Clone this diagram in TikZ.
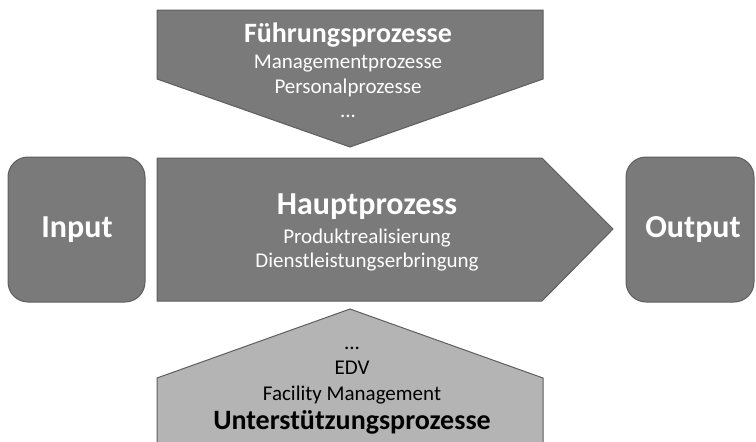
\documentclass[tikz,border=0pt]{standalone}
\usepackage{fontspec}
\setmainfont{Carlito}
\usetikzlibrary{positioning}
\definecolor{darkfill}{HTML}{7A7A7A}
\definecolor{lightfill}{HTML}{B4B4B4}
\definecolor{rim}{HTML}{5E5E5E}

\begin{document}
\begin{tikzpicture}[x=1pt,y=-1pt,node distance=25pt,on grid,
  dark/.style={fill=darkfill,draw=rim,line width=1pt},
  light/.style={fill=lightfill,draw=rim,line width=1pt},
  head/.style={inner sep=0pt,text height=20pt,text depth=6pt,font=\fontsize{28}{32}\selectfont\bfseries},
  bighead/.style={inner sep=0pt,text height=23pt,text depth=7pt,font=\fontsize{32}{36}\selectfont\bfseries},
  sub/.style={inner sep=0pt,text height=15pt,text depth=5pt,font=\fontsize{21}{25}\selectfont}]
\clip (0,0) rectangle (756,442);

\draw[dark] (157,10) -- (543,10) -- (543,79) -- (350,147) -- (157,79) -- cycle;
\draw[dark] (157,158) -- (542,158) -- (613,229) -- (542,301) -- (157,301) -- cycle;
\draw[dark,rounded corners=20pt] (8,157) rectangle (145,302);
\draw[dark,rounded corners=20pt] (626,157) rectangle (754,302);
\draw[light] (157,448) -- (157,378) -- (350,309) -- (543,378) -- (543,448);

\node[head,white] (fp) at (348,35) {Führungsprozesse};
\node[sub,white] (mp) [below=28pt of fp] {Managementprozesse};
\node[sub,white] (pp) [below=of mp] {Personalprozesse};
\node[sub,white] (dotsA) [below=24pt of pp] {...};

\node[bighead,white] (hp) at (367,206) {Hauptprozess};
\node[sub,white] (pr) [below=32pt of hp] {Produktrealisierung};
\node[sub,white] (dl) [below=24pt of pr] {Dienstleistungserbringung};

\node[bighead,white] (in) at (77,229.5) {Input};
\node[bighead,white] (out) at (693,229.5) {Output};

\node[head,black] (up) at (352,422) {Unterstützungsprozesse};
\node[sub,black] (fm) [above=27pt of up] {Facility Management};
\node[sub,black] (edv) [above=26pt of fm] {EDV};
\node[sub,black] (dotsB) [above=of edv] {...};
\end{tikzpicture}
\end{document}
